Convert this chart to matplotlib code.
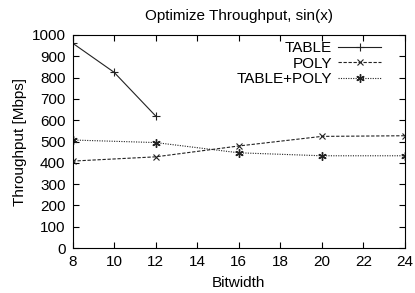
import matplotlib as mpl
mpl.use('Agg')
import matplotlib.pyplot as plt

# data
table_x = [8, 10, 12]
table_y = [962, 825, 620]
poly_x = [8, 12, 16, 20, 24]
poly_y = [408, 428, 479, 524, 527]
both_x = [8, 12, 16, 20, 24]
both_y = [507, 495, 447, 433, 433]

plt.rcParams['font.family'] = ['Liberation Sans', 'DejaVu Sans']
plt.rcParams['font.size'] = 11

fig = plt.figure(figsize=(4.15, 2.93), dpi=100)
ax = fig.add_axes([72.5 / 415, 1 - 248 / 293, (405 - 72.5) / 415, (248 - 35) / 293])

ax.plot(table_x, table_y, color='#222222', lw=0.8, marker='+', ms=6, mew=0.8, label='TABLE')
ax.plot(poly_x, poly_y, color='#222222', lw=0.8, ls=(0, (3, 1.5)), marker='x', ms=5, mew=0.8, label='POLY')
ax.plot(both_x, both_y, color='#222222', lw=0.8, ls=(0, (1, 1.2)), marker=(6, 2, 0), ms=6, mew=1.0,
        label='TABLE+POLY')

ax.set_xlim(8, 24)
ax.set_ylim(0, 1000)
ax.set_xticks(range(8, 25, 2))
ax.set_yticks(range(0, 1001, 100))
ax.tick_params(direction='in', top=True, right=True, length=4, width=0.8, pad=5, labelsize=11)
for s in ax.spines.values():
    s.set_linewidth(0.8)

ax.set_title('Optimize Throughput, sin(x)', fontsize=11, pad=11)
ax.set_xlabel('Bitwidth', labelpad=5)
ax.set_ylabel('Throughput [Mbps]', labelpad=3)

ax.legend(loc='upper right', frameon=False, markerfirst=False, handlelength=2.8,
          labelspacing=0.08, borderaxespad=0.3, handletextpad=0.4, fontsize=11,
          bbox_to_anchor=(0.96, 1.02))

fig.savefig('out.png', dpi=100)
